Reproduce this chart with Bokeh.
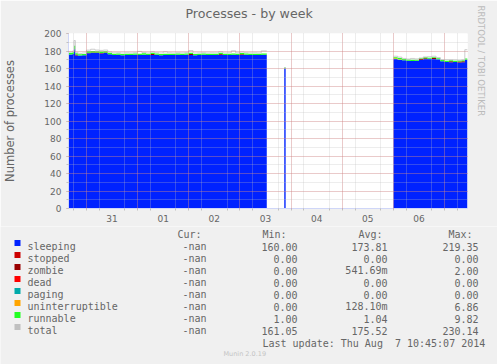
import numpy as np
from bokeh.plotting import figure
from bokeh.models import FixedTicker, SingleIntervalTicker, Title
from bokeh.layouts import column
from bokeh.core.properties import value
from bokeh.embed import file_html
from bokeh.resources import INLINE

# ---- time axis: hours since Thu Jul 31 00:00 ----
x_start, x_end = -8.4, 178.75
x_tick_pos = [12, 36, 60, 84, 108, 132, 156]
x_tick_labels = ["31", "01", "02", "03", "04", "05", "06"]
midnights = [0, 24, 48, 72, 96, 120, 144, 168]
six_hours = [-6, 6, 18, 30, 42, 54, 66, 78, 90, 102, 114, 126, 138, 150, 162, 174] + midnights

# ---- segment 1 (Jul 30 evening -> Aug 3 noon) ----
seg1_t = [-8.4, -6.5, -5.8, -5.2, -4.0, -2.0, 0, 2, 4, 6, 8, 10, 12, 14, 16, 18, 20, 22, 24,
          26, 28, 30, 32, 34, 36, 38, 40, 42, 44, 46, 48, 50, 52, 54, 56, 58, 60, 62, 64,
          66, 68, 70, 72, 74, 76, 78, 80, 82, 84.6]
seg1_sleeping = [176.0, 176.5, 182.0, 175.0, 174.8, 175.2, 177.5, 177.8, 177.6, 177.2, 177.6, 176.4,
                 175.4, 175.6, 175.2, 175.5, 175.3, 175.6, 175.4, 175.8, 175.3, 175.5, 175.6, 175.2,
                 175.4, 175.5, 175.3, 175.6, 175.4, 175.7, 175.5, 175.2, 175.4, 175.6, 175.3, 175.5,
                 175.4, 175.6, 175.3, 175.5, 175.7, 175.4, 175.3, 175.6, 175.4, 175.5, 175.3, 175.6, 175.6]
seg1_zombie = [0, 0, 0, 1, 0, 0, 0.6, 0.6, 0.6, 0.6, 0.6, 0, 0, 0, 0, 0, 0, 0, 0, 0, 0, 1, 0, 0, 0, 0, 0, 0,
               0, 0, 1, 0, 0, 0, 0, 0, 0, 1, 0, 0, 0, 0, 1, 0, 0, 0, 0, 0, 0]
seg1_unint = [0.0] * len(seg1_t)
seg1_runnable = [2.0, 2.0, 4.0, 1.5, 1.5, 1.5, 1.5, 1.5, 1.5, 1.5, 1.5, 1.5, 1.5, 1.5, 1.5, 1.5,
                 1.5, 1.5, 1.5, 1.5, 1.5, 1.5, 1.5, 1.5, 1.5, 1.5, 1.5, 1.5, 1.5, 1.5, 1.5, 1.5,
                 1.5, 1.5, 1.5, 1.5, 1.5, 1.5, 1.5, 1.5, 1.5, 1.5, 1.5, 1.5, 1.5, 1.5, 1.5, 1.5, 1.5]
seg1_total = [179.0, 180.0, 192.0, 178.5, 177.3, 177.7, 181.0, 182.0, 181.1, 180.7, 181.1, 178.9,
              177.9, 178.1, 177.7, 178.0, 177.8, 178.1, 179.5, 178.3, 177.8, 179.0, 178.1, 177.7,
              179.0, 178.0, 177.8, 178.1, 177.9, 178.2, 180.5, 177.7, 177.9, 178.1, 177.8, 178.0,
              177.9, 179.1, 177.8, 178.0, 180.2, 177.9, 178.8, 178.1, 177.9, 178.0, 177.8, 180.1, 180.1]

# ---- segment 2 (single sample Aug 3 evening) ----
seg2_t = [92.8, 93.45]
seg2_sleeping = [160.0, 160.0]
seg2_zombie = [0, 0]
seg2_unint = [0.0, 0.0]
seg2_runnable = [1.05, 1.05]
seg2_total = [161.05, 161.05]

# ---- segment 3 (Aug 6 -> Aug 7 10:45) ----
seg3_t = [144, 146, 148, 150, 152, 154, 156, 158, 160, 162, 164, 166, 168, 170, 172, 174, 176,
          177.5, 178.75]
seg3_sleeping = [170.8, 170.0, 169.4, 168.8, 168.6, 168.8, 169.8, 170.8, 171.2, 171.0, 170.6, 168.4,
                 167.5, 167.2, 167.4, 167.0, 167.2, 170.0, 170.0]
seg3_zombie = [0, 0, 0, 0, 0, 0, 1, 1, 0, 1, 0, 0, 0, 1, 0, 1, 1, 0, 0]
seg3_unint = [1.0, 0.5, 0, 0, 0, 0, 0, 0, 0, 0, 0, 0, 0, 0, 0, 0, 0, 0, 0]
seg3_runnable = [1.2, 1.5, 1.5, 1.5, 1.5, 1.2, 1.0, 1.0, 1.2, 1.0, 1.2, 1.2, 1.5, 1.2, 1.5, 1.2, 1.2,
                 1.5, 1.5]
seg3_total = [174.0, 173.0, 171.5, 170.8, 171.5, 171.0, 172.0, 173.2, 173.5, 174.0, 172.5, 170.2,
              170.0, 170.0, 169.8, 169.5, 170.0, 181.5, 181.5]

# ---- legend table ----
series_names = ["sleeping", "stopped", "zombie", "dead", "paging", "uninterruptible", "runnable", "total"]
series_colors = ["#0022ff", "#cc0000", "#990000", "#ff0000", "#00aaaa", "#ffa500", "#22ff22", "#c0c0c0"]
cur_vals = ["-nan"] * 8
min_vals = ["160.00", "0.00", "0.00", "0.00", "0.00", "0.00", "1.00", "161.05"]
avg_vals = ["173.81", "0.00", "541.69m", "0.00", "0.00", "128.10m", "1.04", "175.52"]
max_vals = ["219.35", "0.00", "2.00", "0.00", "0.00", "6.86", "9.82", "230.14"]
col_headers = ["Cur:", "Min:", "Avg:", "Max:"]
last_update = "Last update: Thu Aug\u00a0 7 10:45:07 2014"
watermark = "Munin 2.0.19"

FONT = "#666666"
AXIS = "#CFD6F8"

p = figure(width=497, height=226, x_range=(x_start, x_end), y_range=(0, 200),
           output_backend="svg", toolbar_location=None, frame_align=False,
           min_border_left=67, min_border_right=30, min_border_top=33, min_border_bottom=18,
           background_fill_color="#ffffff", border_fill_color="#f0f0f0", outline_line_color=None)

p.title.text = "Processes - by week"
p.title.align = "left"
p.title.vertical_align = "bottom"
p.title.offset = 117
p.title.standoff = 0
p.title.text_font = "DejaVu Sans"
p.title.text_font_size = "12.6px"
p.title.text_font_style = "normal"
p.title.text_color = FONT
# empty spacer between the title and the plot area
p.add_layout(Title(text=" ", standoff=0, text_font_size="10px"), "above")

segments = [
    (seg1_t, seg1_sleeping, seg1_zombie, seg1_unint, seg1_runnable, seg1_total),
    (seg2_t, seg2_sleeping, seg2_zombie, seg2_unint, seg2_runnable, seg2_total),
    (seg3_t, seg3_sleeping, seg3_zombie, seg3_unint, seg3_runnable, seg3_total),
]
for t, sl, zo, un, ru, to in segments:
    t = np.array(t, dtype=float)
    n = len(t)
    zeros = np.zeros(n)
    layers = [np.array(sl, float), zeros, np.array(zo, float), zeros, zeros,
              np.array(un, float), np.array(ru, float)]
    base = np.zeros(n)
    for vals, col in zip(layers, series_colors[:7]):
        top = base + vals
        if vals.max() > 0:
            p.varea_step(x=t, y1=base, y2=top, step_mode="after", fill_color=col)
        base = top
    p.step(x=t, y=np.array(to, float), mode="after", line_color="#c0c0c0", line_width=1, line_alpha=0.8)

# axes
p.xaxis.ticker = FixedTicker(ticks=x_tick_pos, minor_ticks=six_hours)
p.xaxis.major_label_overrides = {k: v for k, v in zip(x_tick_pos, x_tick_labels)}
p.yaxis.ticker = SingleIntervalTicker(interval=20, num_minor_ticks=2)
for ax in (p.xaxis, p.yaxis):
    ax.axis_line_color = AXIS
    ax.major_label_text_font = "DejaVu Sans"
    ax.major_label_text_font_size = "9px"
    ax.major_label_text_color = FONT
    ax.minor_tick_line_color = "#c0c0c0"
    ax.minor_tick_in = 0
    ax.minor_tick_out = 2
    ax.major_tick_in = 0
p.xaxis.major_tick_out = 0
p.xaxis.major_label_standoff = 4
p.yaxis.major_tick_out = 2
p.yaxis.major_tick_line_color = "#f0a0a0"
p.yaxis.major_label_standoff = 5
p.yaxis.axis_label = "Number of processes"
p.yaxis.axis_label_text_font = "DejaVu Sans"
p.yaxis.axis_label_text_font_size = "11.5px"
p.yaxis.axis_label_text_font_style = "normal"
p.yaxis.axis_label_text_color = FONT
p.yaxis.axis_label_standoff = 24

# grids
p.xgrid.ticker = FixedTicker(ticks=midnights, minor_ticks=six_hours)
for g in (p.xgrid, p.ygrid):
    g.grid_line_color = "#E05050"
    g.grid_line_alpha = 0.45
    g.grid_line_dash = "1 1"
    g.minor_grid_line_color = "#C0C0C0"
    g.minor_grid_line_alpha = 0.55
    g.minor_grid_line_dash = "1 1"
    g.level = "overlay"

# vertical credit on the right
p.add_layout(Title(text="RRDTOOL / TOBI OETIKER", align="left", offset=-28, standoff=17,
                   text_font="DejaVu Sans", text_font_size="8.6px", text_font_style="normal",
                   text_color="#bbbbbb"), "right")

# ---- legend table figure ----
q = figure(width=497, height=138, x_range=(0, 497), y_range=(138, 0),
           output_backend="svg", toolbar_location=None, min_border=0, frame_align=False,
           x_axis_type=None, y_axis_type=None,
           background_fill_color="#f0f0f0", border_fill_color="#f0f0f0", outline_line_color=None)
q.grid.visible = False

rows_y = [20 + 12 * k for k in range(len(series_names))]
mono = dict(text_font=value("DejaVu Sans Mono"), text_font_size=value("10px"),
            text_color=FONT, text_baseline="alphabetic")
q.rect(x=[17] * 8, y=[y - 3.5 for y in rows_y], width=6, height=6, fill_color=series_colors,
       line_color=None)
q.text(x=[27] * 8, y=rows_y, text=series_names, text_align="left", **mono)
q.text(x=[177, 262, 358, 448], y=[7.5] * 4, text=col_headers, text_align="left", **mono)
q.text(x=[206] * 8, y=rows_y, text=cur_vals, text_align="right", **mono)
q.text(x=[297] * 8, y=rows_y, text=min_vals, text_align="right", **mono)
q.text(x=[387] * 8, y=rows_y, text=avg_vals, text_align="right", **mono)
q.text(x=[478] * 8, y=rows_y, text=max_vals, text_align="right", **mono)
q.text(x=[262], y=[116.5], text=[last_update], text_align="left", **mono)
q.text(x=[223], y=[127.5], text=[watermark], text_align="left", text_baseline="alphabetic",
       text_font=value("DejaVu Sans"), text_font_size=value("6.5px"), text_color="#c4c4c4")

layout = column(p, q, spacing=0)
open("out.html", "w").write(file_html(layout, INLINE))
